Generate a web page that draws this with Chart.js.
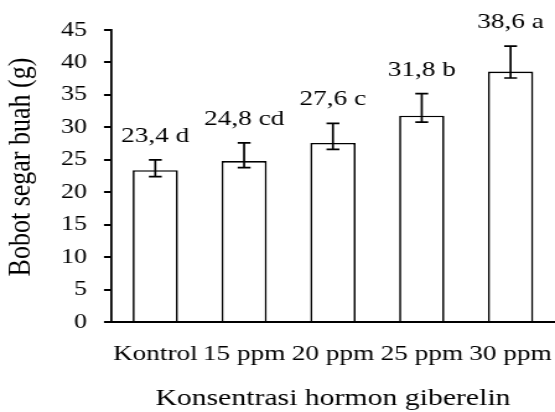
<!DOCTYPE html>
<html>
<head>
<meta charset="utf-8">
<script src="https://cdn.jsdelivr.net/npm/chart.js@4"></script>
<style>
  html, body { margin: 0; padding: 0; background: #fff; overflow: hidden; }
  /* the source picture is stretched sideways, so draw narrower and stretch */
  #wrap { width: 448px; height: 412px; transform: scaleX(1.2388); transform-origin: 0 0; }
</style>
</head>
<body>
<div id="wrap"><canvas id="barChart"></canvas></div>
<script>
const categories = ['Kontrol', '15 ppm', '20 ppm', '25 ppm', '30 ppm'];
const bobot = [23.4, 24.8, 27.6, 31.8, 38.6];
const errUp = [1.6, 2.8, 3.0, 3.4, 3.9];
const errDown = [1.0, 1.0, 1.0, 1.0, 1.0];
const notasi = ['d', 'cd', 'c', 'b', 'a'];
const yTicks = [0, 5, 10, 15, 20, 25, 30, 35, 40, 45];
const yTitle = 'Bobot segar buah (g)';

const serif = '"Liberation Serif", "Times New Roman", serif';

// error bars, value labels and the y title (sits a bit above centre)
const errorBars = {
  id: 'errorBars',
  afterDatasetsDraw(chart) {
    const ctx = chart.ctx;
    const y = chart.scales.y;
    const meta = chart.getDatasetMeta(0);
    ctx.save();
    ctx.strokeStyle = '#000';
    ctx.lineWidth = 1.7;
    meta.data.forEach((bar, i) => {
      const top = y.getPixelForValue(bobot[i] + errUp[i]);
      const bot = y.getPixelForValue(bobot[i] - errDown[i]);
      ctx.beginPath();
      ctx.moveTo(bar.x, top);
      ctx.lineTo(bar.x, bot);
      ctx.moveTo(bar.x - 5.2, top);
      ctx.lineTo(bar.x + 5.2, top);
      ctx.moveTo(bar.x - 5.2, bot);
      ctx.lineTo(bar.x + 5.2, bot);
      ctx.stroke();

      ctx.fillStyle = '#000';
      ctx.font = '22px ' + serif;
      ctx.textAlign = 'center';
      ctx.textBaseline = 'alphabetic';
      const txt = bobot[i].toFixed(1).replace('.', ',') + ' ' + notasi[i];
      ctx.fillText(txt, bar.x, top - 18);
    });

    const area = chart.chartArea;
    ctx.translate(17, (area.top + area.bottom) / 2 - 9);
    ctx.rotate(-Math.PI / 2);
    ctx.font = '26px ' + serif;
    ctx.textAlign = 'center';
    ctx.textBaseline = 'middle';
    ctx.fillText(yTitle, 0, 0);
    ctx.restore();
  }
};

new Chart(document.getElementById('barChart'), {
  type: 'bar',
  data: {
    labels: categories,
    datasets: [{
      data: bobot,
      backgroundColor: '#fff',
      borderColor: '#000',
      borderWidth: 1.7,
      barPercentage: 0.51,
      categoryPercentage: 1,
    }],
  },
  options: {
    responsive: true,
    maintainAspectRatio: false,
    animation: false,
    layout: { padding: { top: 30, right: 0, bottom: 0, left: 0 } },
    scales: {
      x: {
        // invisible tick marks push labels down without side padding
        grid: { display: true, drawOnChartArea: false, drawTicks: true, tickLength: 19, color: 'rgba(0,0,0,0)' },
        border: { display: true, color: '#000', width: 2 },
        ticks: { color: '#000', font: { family: serif, size: 22 }, padding: 0, maxRotation: 0 },
        title: {
          display: true,
          text: 'Konsentrasi hormon giberelin',
          color: '#000',
          font: { family: serif, size: 24, lineHeight: 1.1 },
          padding: { top: 0, bottom: 0 },
        },
        afterFit(scale) { scale.height = 90; },
      },
      y: {
        min: 0,
        max: 45,
        afterBuildTicks(scale) { scale.ticks = yTicks.map(v => ({ value: v })); },
        grid: { drawOnChartArea: false, drawTicks: true, tickLength: 5.6, color: '#000', lineWidth: 2 },
        border: { display: true, color: '#000', width: 1.8 },
        ticks: { color: '#000', font: { family: serif, size: 21 }, padding: 13.7 },
        title: { display: false },
        afterFit(scale) { scale.width = 89.5; },
      },
    },
    plugins: {
      legend: { display: false },
      tooltip: { enabled: false },
    },
  },
  plugins: [errorBars],
});
</script>
</body>
</html>
